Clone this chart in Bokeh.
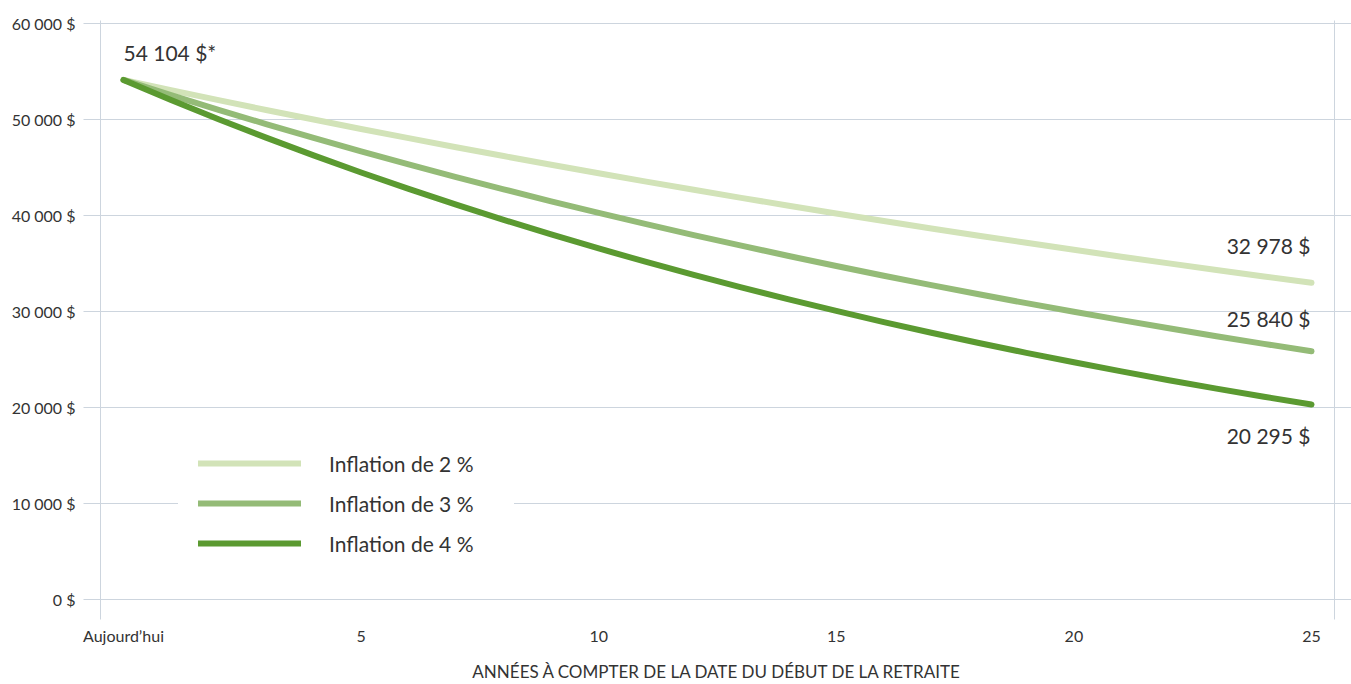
from bokeh.plotting import figure
from bokeh.models import (FixedTicker, LinearAxis, Legend, LegendItem, Range1d,
                          ColumnDataSource)
from bokeh.core.properties import value
from bokeh.embed import file_html
from bokeh.resources import INLINE

# ---------------- data ----------------
years = list(range(0, 26))
infl_2 = [54104, 53043, 52003, 50983, 49984, 49004, 48043, 47101, 46177, 45272,
          44385, 43514, 42661, 41824, 41004, 40200, 39412, 38639, 37881, 37139,
          36411, 35697, 34997, 34310, 33638, 32978]
infl_3 = [54104, 52528, 50998, 49513, 48071, 46671, 45311, 43991, 42710, 41466,
          40258, 39086, 37947, 36842, 35769, 34727, 33716, 32734, 31780, 30855,
          29956, 29084, 28236, 27414, 26616, 25840]
infl_4 = [54104, 52023, 50022, 48098, 46249, 44470, 42759, 41115, 39533, 38013,
          36551, 35145, 33793, 32494, 31244, 30042, 28886, 27776, 26708, 25680,
          24692, 23743, 22830, 21951, 21107, 20295]
series_names = ["Inflation de 2 %", "Inflation de 3 %", "Inflation de 4 %"]
start_label = "54 104 $*"
end_labels = ["32 978 $", "25 840 $", "20 295 $"]
y_ticks = [0, 10000, 20000, 30000, 40000, 50000, 60000]
y_tick_labels = ["0 $", "10 000 $", "20 000 $", "30 000 $", "40 000 $", "50 000 $", "60 000 $"]
x_ticks = [0, 5, 10, 15, 20, 25]
x_tick_labels = ["Aujourd\u2019hui", "5", "10", "15", "20", "25"]
x_title = "ANNÉES À COMPTER DE LA DATE DU DÉBUT DE LA RETRAITE"

# ---------------- style ----------------
FONT = "Lato"
TXT = "#333333"
GRID = "#cdd5de"
COLORS = ["#d2e3b8", "#94bb77", "#5b9a31"]

p = figure(width=1351, height=684, output_backend="svg", toolbar_location=None,
           x_range=Range1d(-0.484, 25.484), y_range=Range1d(-2100, 60300),
           min_border_left=100, min_border_right=17, min_border_top=20,
           min_border_bottom=64)
p.outline_line_color = None
p.background_fill_color = "white"
p.border_fill_color = "white"
p.xgrid.visible = False
p.ygrid.ticker = FixedTicker(ticks=y_ticks)
p.ygrid.grid_line_color = GRID
p.ygrid.grid_line_width = 1

# y axis (left)
ya = p.yaxis[0]
ya.ticker = FixedTicker(ticks=y_ticks)
ya.major_label_overrides = {t: l for t, l in zip(y_ticks, y_tick_labels)}
ya.axis_line_color = GRID
ya.major_tick_line_color = GRID
ya.major_tick_out = 17
ya.major_tick_in = 0
ya.minor_tick_line_color = None
ya.major_label_standoff = 8
ya.major_label_text_font = FONT
ya.major_label_text_font_size = "16px"
ya.major_label_text_color = TXT

# right axis (line + grid extension)
ra = LinearAxis(ticker=FixedTicker(ticks=y_ticks))
ra.axis_line_color = GRID
ra.major_tick_line_color = GRID
ra.major_tick_out = 17
ra.major_tick_in = 0
ra.minor_tick_line_color = None
ra.major_label_text_font_size = "0px"
ra.major_label_standoff = 0
ra.major_label_overrides = {t: "" for t in y_ticks}
p.add_layout(ra, "right")

# x axis
xa = p.xaxis[0]
xa.ticker = FixedTicker(ticks=x_ticks)
xa.major_label_overrides = {t: l for t, l in zip(x_ticks, x_tick_labels)}
xa.axis_line_color = None
xa.major_tick_line_color = None
xa.major_tick_out = 0
xa.major_tick_in = 0
xa.minor_tick_line_color = None
xa.minor_tick_out = 0
xa.major_label_standoff = 6
xa.major_label_text_font = FONT
xa.major_label_text_font_size = "16px"
xa.major_label_text_color = TXT
xa.axis_label = x_title
xa.axis_label_standoff = 13
xa.axis_label_text_font = FONT
xa.axis_label_text_font_size = "17px"
xa.axis_label_text_font_style = "normal"
xa.axis_label_text_color = TXT

# lines
renderers = []
for ys, c in zip([infl_2, infl_3, infl_4], COLORS):
    r = p.line(years, ys, line_color=c, line_width=6, line_cap="round", line_join="round")
    renderers.append(r)

# labels
p.text(x=[years[0]], y=[infl_2[0]], text=[start_label], text_font=value(FONT),
       text_font_size="21px", text_color=TXT, text_align="left",
       text_baseline="middle", y_offset=-27)
end_src = ColumnDataSource(dict(x=[years[-1]] * 3,
                                y=[infl_2[-1], infl_3[-1], infl_4[-1]],
                                t=end_labels, off=[-37, -33, 31]))
p.text(x="x", y="y", text="t", y_offset="off", source=end_src, text_font=value(FONT),
       text_font_size="21px", text_color=TXT, text_align="right",
       text_baseline="middle", x_offset=-1)

legend = Legend(items=[LegendItem(label=n, renderers=[r]) for n, r in zip(series_names, renderers)],
                location=(78, 36), glyph_width=103, glyph_height=40, spacing=0,
                label_standoff=28, padding=19, margin=0, label_width=165,
                label_text_font=FONT, label_text_font_size="21px",
                label_text_color=TXT, border_line_color="white", border_line_width=1,
                background_fill_color="white", background_fill_alpha=1.0)
p.add_layout(legend, "center")

open("out.html", "w").write(file_html(p, INLINE))
